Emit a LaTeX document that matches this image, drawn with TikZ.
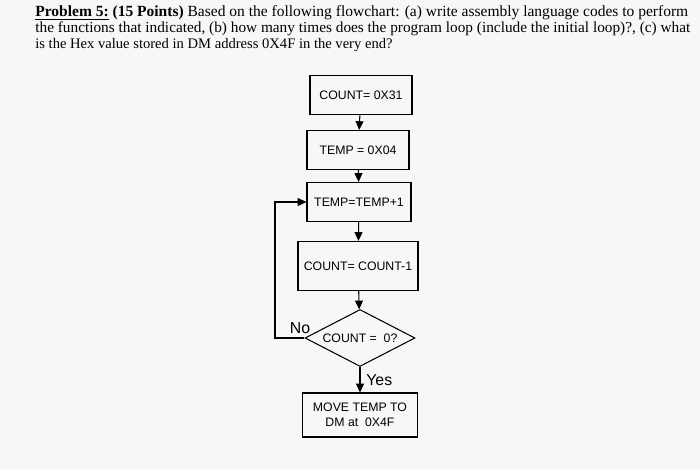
\documentclass[tikz,border=0pt]{standalone}
\usepackage{fontspec}
\setmainfont{Liberation Serif}
\newfontfamily\flowfont{Liberation Sans}
\usetikzlibrary{shapes.geometric,arrows.meta}
\tikzstyle{proc} = [rectangle, draw, line width=0.6pt, minimum height=0.78cm, font=\flowfont\fontsize{7}{8.5}\selectfont, align=center]
\tikzstyle{test} = [diamond, draw, line width=0.6pt, aspect=1.9, inner sep=1pt, font=\flowfont\fontsize{7}{8.5}\selectfont]
\tikzstyle{flow} = [-{Triangle[length=5pt,width=4.5pt]}, line width=0.6pt]
\tikzstyle{hline} = [anchor=base west, inner sep=0, font=\fontsize{8.3}{10}\selectfont]
\begin{document}
\begin{tikzpicture}[x=0.02cm, y=-0.02cm]
  \useasboundingbox[fill=gray!6] (0,0) rectangle (700,469);
  % problem statement
  \node[hline] (l1) at (35,17) {\resizebox{13.06cm}{!}{\textbf{\underline{Problem 5:}} \textbf{(15 Points)} Based on the following flowchart: (a) write assembly language codes to perform}};
  \node[hline] (l2) at (35,33) {\resizebox{13.1cm}{!}{the functions that indicated, (b) how many times does the program loop (include the initial loop)?, (c) what}};
  \node[hline] (l3) at (35,49) {is the Hex value stored in DM address 0X4F in the very end?};
  % flowchart
  \node[proc, minimum width=2.04cm] (count) at (361,95) {COUNT= 0X31};
  \node[proc, minimum width=2.04cm] (temp) at (358,150) {TEMP = 0X04};
  \node[proc, minimum width=2.08cm] (inc) at (359,202) {TEMP=TEMP+1};
  \node[proc, minimum width=2.16cm, minimum height=0.98cm] (dec) at (358,266) {COUNT= COUNT-1};
  \node[test, minimum width=2.2cm, minimum height=1.14cm] (zero) at (360,338) {COUNT = \ 0?};
  \node[proc, minimum width=2.3cm, minimum height=0.88cm] (move) at (360,415) {MOVE TEMP TO\\DM at \ 0X4F};
  \coordinate (back) at (275,338);
  \draw[flow] (count) -- (temp);
  \draw[flow] (temp) -- (inc);
  \draw[flow] (inc) -- (dec);
  \draw[flow] (dec) -- (zero);
  \draw[flow] (zero) -- node[right, font=\flowfont\fontsize{9}{10}\selectfont] {Yes} (move);
  \draw[flow] (zero.west) -- (back) |- (inc.west);
  \node[font=\flowfont\fontsize{9}{10}\selectfont] (no) at (300,328) {No};
\end{tikzpicture}
\end{document}
